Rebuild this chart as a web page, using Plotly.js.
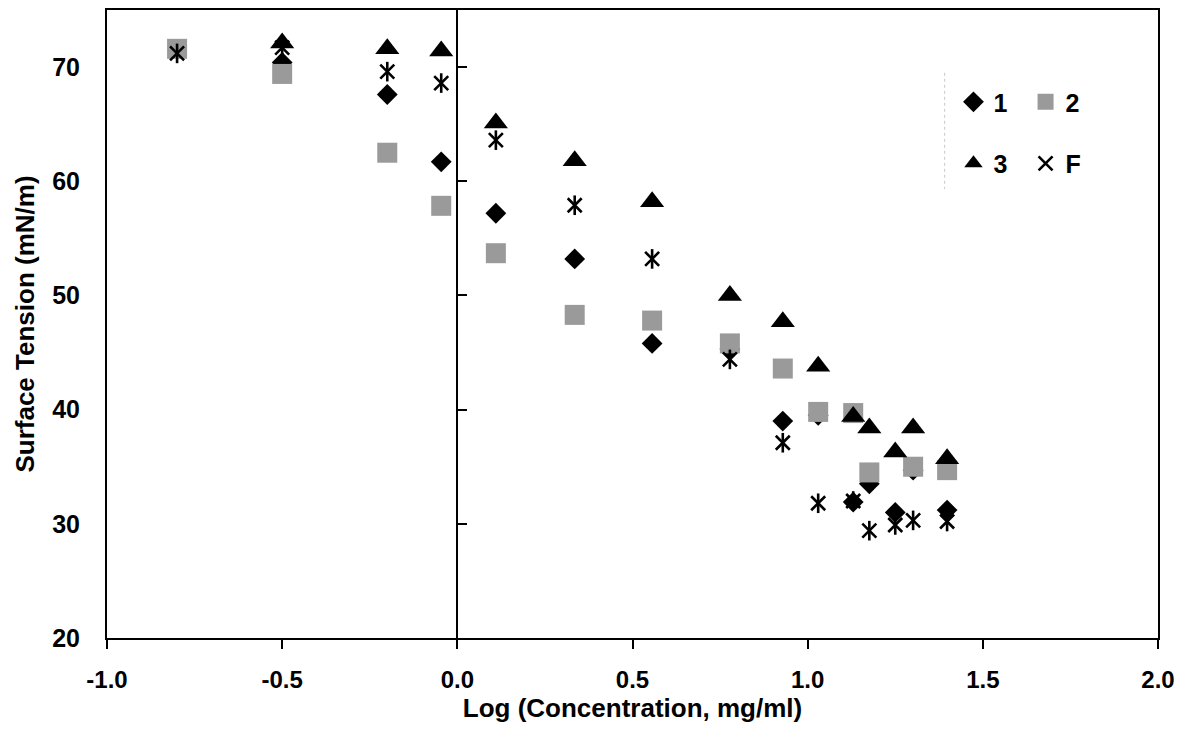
<!DOCTYPE html>
<html>
<head>
<meta charset="utf-8">
<script src="https://cdn.plot.ly/plotly-3.0.1.min.js"></script>
<style>html,body{margin:0;padding:0;background:#fff;}#chart{width:1187px;height:731px;}</style>
</head>
<body>
<div id="chart"></div>
<script>
// Data (x = log concentration, y = surface tension mN/m)
const x1 = [-0.5, -0.2, -0.046, 0.11, 0.335, 0.556, 0.778, 0.929, 1.03, 1.13, 1.176, 1.25, 1.301, 1.398];
const y1 = [70.4, 67.6, 61.7, 57.2, 53.2, 45.8, 45.3, 39.0, 39.5, 31.9, 33.5, 31.0, 34.7, 31.2];

const x2 = [-0.8, -0.5, -0.2, -0.046, 0.11, 0.335, 0.556, 0.778, 0.929, 1.03, 1.13, 1.176, 1.301, 1.398];
const y2 = [71.6, 69.4, 62.5, 57.85, 53.7, 48.3, 47.8, 45.8, 43.6, 39.8, 39.7, 34.5, 35.0, 34.7];

const x3 = [-0.5, -0.2, -0.046, 0.11, 0.335, 0.556, 0.778, 0.929, 1.03, 1.13, 1.176, 1.25, 1.301, 1.398];
const y3 = [72.1, 71.6, 71.4, 65.1, 61.8, 58.2, 50.0, 47.7, 43.8, 39.4, 38.4, 36.3, 38.4, 35.7];

const xF = [-0.8, -0.5, -0.2, -0.046, 0.11, 0.335, 0.556, 0.778, 0.929, 1.03, 1.13, 1.176, 1.25, 1.301, 1.398];
const yF = [71.2, 71.7, 69.6, 68.6, 63.6, 57.9, 53.2, 44.4, 37.1, 31.8, 32.0, 29.4, 29.9, 30.3, 30.2];

const seriesNames = ['1', '2', '3', 'F'];
const xTicks = [-1.0, -0.5, 0.0, 0.5, 1.0, 1.5, 2.0];
const xTickText = ['-1.0', '-0.5', '0.0', '0.5', '1.0', '1.5', '2.0'];
const yTicks = [20, 30, 40, 50, 60, 70];

const FONT = 'Liberation Sans, Arial, sans-serif';

const traces = [
  {x: x1, y: y1, name: seriesNames[0], mode: 'markers', type: 'scatter', legend: 'legend', legendgroup: 'g1',
   marker: {symbol: 'diamond', size: 16, color: '#000'}},
  {x: x2, y: y2, name: seriesNames[1], mode: 'markers', type: 'scatter', legend: 'legend2', legendgroup: 'g2',
   marker: {symbol: 'square', size: 20, color: '#9a9a9a'}},
  {x: x3, y: y3, name: seriesNames[2], mode: 'markers', type: 'scatter', legend: 'legend', legendgroup: 'g3',
   marker: {symbol: 'triangle-up', size: 21, color: '#000'}},
  {x: xF, y: yF, name: seriesNames[3], mode: 'markers', type: 'scatter', legend: 'legend2', legendgroup: 'gF',
   marker: {symbol: 'x-thin-open', size: 14, color: '#000', line: {color: '#000', width: 2.6}}},
  {x: xF, y: yF, name: seriesNames[3], mode: 'markers', type: 'scatter', legend: 'legend2', legendgroup: 'gF', showlegend: false,
   marker: {symbol: 'line-ns-open', size: 14, color: '#000', line: {color: '#000', width: 2.6}}},
  {x: [], y: [], yaxis: 'y2', showlegend: false, type: 'scatter', mode: 'markers', hoverinfo: 'skip'}
];

const legendCommon = {
  font: {family: FONT, size: 25, color: '#000', weight: 'bold'},
  bgcolor: 'rgba(0,0,0,0)', borderwidth: 0,
  tracegroupgap: 26, itemwidth: 30, xanchor: 'left', yanchor: 'top'
};

const layout = {
  width: 1187, height: 731,
  margin: {l: 107, r: 29, t: 10, b: 93},
  paper_bgcolor: '#fff', plot_bgcolor: '#fff',
  showlegend: true,
  font: {family: FONT, color: '#000'},
  xaxis: {
    range: [-1.0, 2.0], tickvals: xTicks, ticktext: xTickText,
    ticks: 'outside', ticklen: 9, tickwidth: 2, tickcolor: '#000',
    showline: true, linecolor: '#000', linewidth: 2, mirror: true,
    showgrid: false, zeroline: false, ticklabelstandoff: 10,
    tickfont: {family: FONT, size: 24, color: '#000', weight: 'bold'},
    title: {text: 'Log (Concentration, mg/ml)', font: {family: FONT, size: 26, color: '#000', weight: 'bold'}, standoff: 1}
  },
  yaxis: {
    range: [20, 75], tickvals: yTicks,
    ticks: '', showline: true, linecolor: '#000', linewidth: 2, mirror: true,
    showgrid: false, zeroline: false, ticklabelstandoff: 20,
    tickfont: {family: FONT, size: 25, color: '#000', weight: 'bold'},
    title: {text: 'Surface Tension (mN/m)', font: {family: FONT, size: 26, color: '#000', weight: 'bold'}, standoff: 10}
  },
  yaxis2: {
    range: [20, 75], tickvals: yTicks, overlaying: 'y', anchor: 'free', position: 1/3,
    side: 'left', ticks: 'inside', ticklen: 9, tickwidth: 2, tickcolor: '#000',
    showline: true, linecolor: '#000', linewidth: 2, showticklabels: false,
    showgrid: false, zeroline: false
  },
  legend: Object.assign({}, legendCommon, {x: 0.8054, y: 0.89}),
  legend2: Object.assign({}, legendCommon, {x: 0.874, y: 0.89}),
  shapes: [
    {type: 'line', xref: 'paper', yref: 'paper', x0: 0.797, x1: 0.797, y0: 0.9, y1: 0.715,
     line: {color: '#c8c8c8', width: 1, dash: 'dot'}}
  ]
};

Plotly.newPlot('chart', traces, layout, {displayModeBar: false, staticPlot: true});
</script>
</body>
</html>
